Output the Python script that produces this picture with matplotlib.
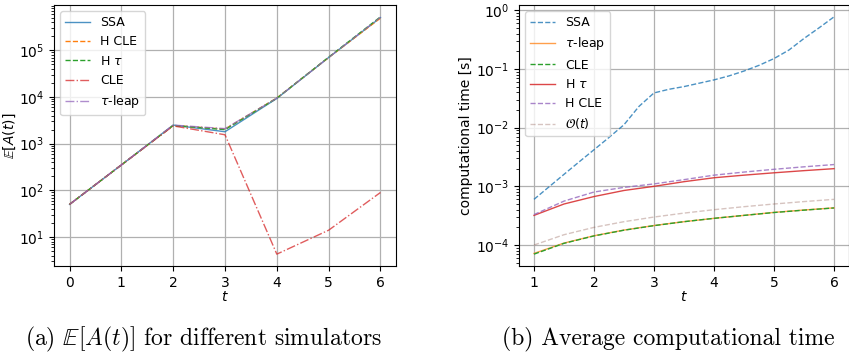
import matplotlib
matplotlib.use("Agg")
import matplotlib.pyplot as plt

# ---- data: left panel (E[A(t)]) ----
t_a = [0, 1, 2, 3, 4, 5, 6]
ssa_a = [50, 350, 2500, 1800, 9300, 70000, 500000]
hcle_a = [50, 350, 2450, 2050, 9500, 70000, 490000]
htau_a = [50, 350, 2450, 2000, 9400, 71000, 520000]
cle_a = [50, 350, 2400, 1550, 4.3, 14, 90]
tleap_a = [50, 350, 2500, 2100, 9400, 70000, 510000]

# ---- data: right panel (computational time) ----
t_ssa = [1, 1.25, 1.5, 1.75, 2, 2.25, 2.5, 2.75, 3, 3.25, 3.5, 3.75, 4,
         4.25, 4.5, 4.75, 5, 5.25, 5.5, 5.75, 6]
ssa_b = [6.0e-4, 9.8e-4, 1.6e-3, 2.6e-3, 4.2e-3, 6.8e-3, 1.12e-2, 2.3e-2,
         3.9e-2, 4.5e-2, 5.0e-2, 5.7e-2, 6.5e-2, 7.6e-2, 9.2e-2, 1.15e-1,
         1.5e-1, 2.1e-1, 3.3e-1, 5.0e-1, 7.7e-1]
t_b = [1, 1.5, 2, 2.5, 3, 3.5, 4, 4.5, 5, 5.5, 6]
tleap_b = [7.2e-5, 1.08e-4, 1.44e-4, 1.8e-4, 2.15e-4, 2.5e-4, 2.85e-4,
           3.2e-4, 3.6e-4, 3.95e-4, 4.3e-4]
cle_b = [7.0e-5, 1.07e-4, 1.43e-4, 1.79e-4, 2.14e-4, 2.5e-4, 2.85e-4,
         3.2e-4, 3.58e-4, 3.93e-4, 4.28e-4]
htau_b = [3.2e-4, 5.0e-4, 6.7e-4, 8.5e-4, 1.0e-3, 1.2e-3, 1.4e-3,
          1.55e-3, 1.7e-3, 1.85e-3, 2.0e-3]
hcle_b = [3.3e-4, 5.6e-4, 8.0e-4, 9.6e-4, 1.1e-3, 1.3e-3, 1.55e-3,
          1.75e-3, 1.95e-3, 2.15e-3, 2.35e-3]
ot_b = [1.0e-4, 1.5e-4, 2.0e-4, 2.5e-4, 3.0e-4, 3.5e-4, 4.0e-4,
        4.5e-4, 5.0e-4, 5.5e-4, 6.0e-4]

captions = [r"(a) $\mathbb{E}[A(t)]$ for different simulators",
            "(b) Average computational time"]

W, H = 849, 358
fig = plt.figure(figsize=(W / 100, H / 100), dpi=100)

TICK = 10
LEG = 9
LAB = 10

ax1 = fig.add_axes([54 / W, (H - 266) / H, (396 - 54) / W, (266 - 5) / H])
ax1.plot(t_a, ssa_a, color="tab:blue", lw=1.0, alpha=0.8, label="SSA")
ax1.plot(t_a, hcle_a, color="tab:orange", lw=1.0, ls="--", label="H CLE")
ax1.plot(t_a, htau_a, color="tab:green", lw=1.0, ls="--", label=r"H $\tau$")
ax1.plot(t_a, cle_a, color="tab:red", lw=1.0, ls="-.", alpha=0.75, label="CLE")
ax1.plot(t_a, tleap_a, color="tab:purple", lw=1.0, ls="-.", alpha=0.75,
         label=r"$\tau$-leap")
ax1.set_yscale("log")
ax1.grid(True, which="major", color="#b0b0b0", lw=0.9)
ax1.set_xlabel("$t$", fontsize=LAB, labelpad=0)
ax1.set_ylabel(r"$\mathbb{E}[A(t)]$", fontsize=LAB, labelpad=1)
ax1.tick_params(labelsize=TICK)
ax1.legend(loc="upper left", fontsize=LEG)

ax2 = fig.add_axes([519 / W, (H - 266) / H, (849 - 519) / W, (266 - 5) / H])
ax2.plot(t_ssa, ssa_b, color="tab:blue", lw=1.0, ls="--", alpha=0.8, label="SSA")
ax2.plot(t_b, tleap_b, color="tab:orange", lw=1.0, alpha=0.75, label=r"$\tau$-leap")
ax2.plot(t_b, cle_b, color="tab:green", lw=1.0, ls="--", label="CLE")
ax2.plot(t_b, htau_b, color="tab:red", lw=1.0, alpha=0.85, label=r"H $\tau$")
ax2.plot(t_b, hcle_b, color="tab:purple", lw=1.0, ls="--", alpha=0.8, label="H CLE")
ax2.plot(t_b, ot_b, color="tab:brown", lw=1.0, ls="--", alpha=0.35,
         label=r"$\mathcal{O}(t)$")
ax2.set_yscale("log")
ax2.grid(True, which="major", color="#b0b0b0", lw=0.9)
ax2.set_xlabel("$t$", fontsize=LAB, labelpad=0)
ax2.set_ylabel("computational time [s]", fontsize=LAB, labelpad=2)
ax2.tick_params(labelsize=TICK)
ax2.legend(loc="upper left", fontsize=LEG)

fig.text(203 / W, 1 - 339 / H, captions[0], ha="center", va="center",
         fontsize=17, family="cmr10", math_fontfamily="cm")
fig.text(668 / W, 1 - 339 / H, captions[1], ha="center", va="center",
         fontsize=17, family="cmr10", math_fontfamily="cm")

fig.savefig("out.png", dpi=100)
